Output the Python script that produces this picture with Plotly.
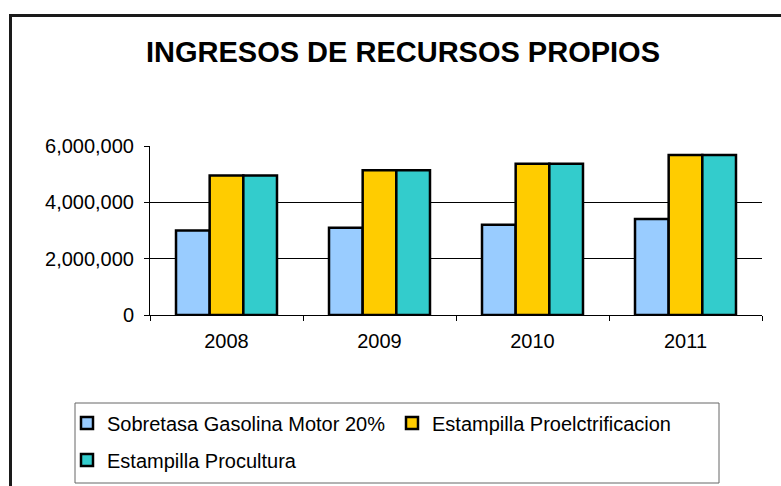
import plotly.graph_objects as go

W, H = 781, 486

years = ["2008", "2009", "2010", "2011"]
series_names = [
    "Sobretasa Gasolina Motor 20%",
    "Estampilla Proelctrificacion",
    "Estampilla Procultura",
]
sobretasa = [3000000, 3100000, 3200000, 3410000]
proelectrificacion = [4950000, 5140000, 5370000, 5680000]
procultura = [4950000, 5140000, 5370000, 5680000]
colors = ["#99CCFF", "#FFCC00", "#33CCCC"]
y_ticks = [0, 2000000, 4000000, 6000000]

FONT = "Liberation Sans, Arial, sans-serif"

# plot area in pixels
L, R, T, B = 150, 762, 146, 315


def px_x(p):
    return (p - L) / (R - L)


def px_y(p):
    return (B - p) / (B - T)


def legend_at(x_px, y_px):
    return dict(orientation="h", xref="container", yref="container",
                x=x_px / W, y=1 - y_px / H, xanchor="left", yanchor="middle",
                bgcolor="rgba(0,0,0,0)", borderwidth=0,
                font=dict(family=FONT, size=20, color="black"))


fig = go.Figure()
for name, vals, col, lg in zip(series_names, [sobretasa, proelectrificacion, procultura],
                               colors, ["legend", "legend2", "legend3"]):
    fig.add_trace(go.Bar(
        x=years, y=vals, name=name, legend=lg,
        marker=dict(color=col, line=dict(color="black", width=2.5)),
    ))

fig.update_layout(
    width=W, height=H,
    margin=dict(l=L, r=W - R, t=T, b=H - B),
    paper_bgcolor="white", plot_bgcolor="white",
    barmode="group", bargap=0.34, bargroupgap=0,
    font=dict(family=FONT, size=20, color="black"),
    title=dict(text="<b>INGRESOS DE RECURSOS PROPIOS</b>",
               font=dict(family=FONT, size=29, color="black"),
               xref="container", yref="container",
               x=403 / W, y=1 - 52 / H, xanchor="center", yanchor="middle"),
    showlegend=True,
    legend=legend_at(67, 423),
    legend2=legend_at(392, 423),
    legend3=legend_at(67, 460),
    xaxis=dict(type="category", showline=True, linecolor="black", linewidth=1,
               ticks="outside", ticklen=5, tickcolor="black", tickson="boundaries",
               showgrid=False, tickfont=dict(size=20), ticklabelstandoff=8),
    yaxis=dict(range=[0, 6000000], tickvals=y_ticks, tickformat=",d",
               showline=True, linecolor="black", linewidth=1,
               ticks="outside", ticklen=5, tickcolor="black",
               showgrid=True, gridcolor="black", gridwidth=1,
               zeroline=False, tickfont=dict(size=20), ticklabelstandoff=6),
    shapes=[
        dict(type="rect", xref="paper", yref="paper",
             x0=px_x(10.5), x1=px_x(800), y0=px_y(500), y1=px_y(15.5),
             line=dict(color="#1a1a1a", width=3), fillcolor="rgba(0,0,0,0)", layer="below"),
        dict(type="rect", xref="paper", yref="paper",
             x0=px_x(75), x1=px_x(719), y0=px_y(483), y1=px_y(403),
             line=dict(color="#666666", width=1), fillcolor="rgba(0,0,0,0)"),
    ],
)

fig.write_html("out.html", config={"displayModeBar": False},
               post_script="document.body.style.margin='0';document.body.style.overflow='hidden';")
